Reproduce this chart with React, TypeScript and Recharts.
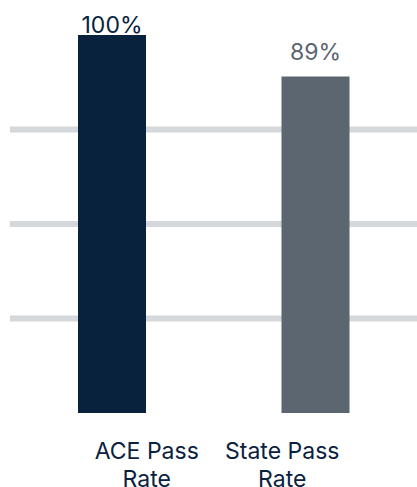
import { Bar, BarChart, CartesianGrid, Cell, LabelList, XAxis, YAxis } from "recharts";

const categories = ["ACE Pass Rate", "State Pass Rate"];
const passRates = [100, 89];
const barColors = ["#08223d", "#5b6670"];
const gridTicks = [25, 50, 75];

const rows = categories.map((name, i) => ({ name, rate: passRates[i], color: barColors[i] }));

const FONT = "Inter, 'Noto Sans', sans-serif";

function CategoryTick({ x, y, payload }: { x?: number; y?: number; payload?: { value: string } }) {
  const text = payload?.value ?? "";
  const cut = text.lastIndexOf(" ");
  const lines = [text.slice(0, cut), text.slice(cut + 1)];
  return (
    <text x={x} y={(y ?? 0) + 8} textAnchor="middle" fill="#0a2240" fontSize={23} fontFamily={FONT}>
      {lines.map((line, i) => (
        <tspan key={i} x={x} dy={i === 0 ? 0 : 28}>
          {line}
        </tspan>
      ))}
    </text>
  );
}

function ValueLabel(props: any) {
  const { x, y, width, value, index } = props;
  const baseline = Math.max(y - 17, 33);
  return (
    <text x={x + width / 2} y={baseline} textAnchor="middle" fill={barColors[index]} fontSize={23} fontFamily={FONT}>
      {value}%
    </text>
  );
}

export default function App() {
  return (
    <div style={{ width: 417, height: 487 }}>
      <style>{"body{margin:0}"}</style>
      <BarChart width={417} height={487} data={rows} margin={{ top: 35, right: 0, bottom: 0, left: 10 }}>
        <CartesianGrid vertical={false} stroke="#d5d8db" strokeWidth={6} horizontalValues={gridTicks} />
        <XAxis xAxisId="bars" dataKey="name" hide />
        <XAxis
          xAxisId="labels"
          dataKey="name"
          height={74}
          axisLine={false}
          tickLine={false}
          padding={{ left: 69, right: 67 }}
          tick={<CategoryTick />}
          interval={0}
        />
        <YAxis hide domain={[0, 100]} ticks={gridTicks} />
        <Bar xAxisId="bars" dataKey="rate" barSize={68} isAnimationActive={false}>
          {rows.map((row) => (
            <Cell key={row.name} fill={row.color} />
          ))}
          <LabelList dataKey="rate" content={<ValueLabel />} />
        </Bar>
      </BarChart>
    </div>
  );
}
